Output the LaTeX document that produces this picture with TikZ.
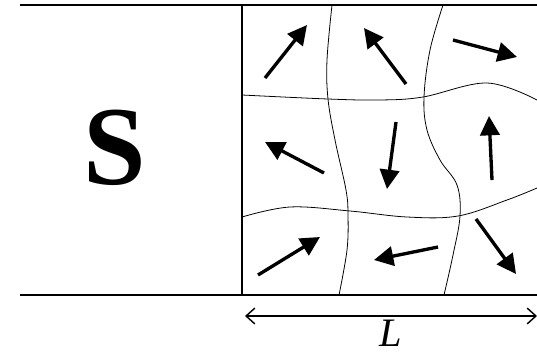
\documentclass[tikz,border=0pt]{standalone}
\usepackage{fontspec}
\setmainfont{Liberation Serif}
\usetikzlibrary{arrows.meta}

\tikzset{
    wall/.style={line width=1.2pt},
    domainwall/.style={line width=0.45pt},
    spin/.style={line width=1.9pt, -{Triangle[length=11pt,width=11pt]}},
    lenarrow/.style={line width=0.8pt, {Straight Barb[length=5pt,width=9pt]}-{Straight Barb[length=5pt,width=9pt]}}
}

\begin{document}
\begin{tikzpicture}[x=0.02cm, y=-0.02cm]
    \useasboundingbox (0,0) rectangle (537,355);

    % walls
    \draw[wall] (20,5) -- (537,5);
    \draw[wall] (20,295) -- (537,295);
    \draw[wall] (242,5) -- (242,295);

    % superconductor
    \node[font=\fontsize{64}{64}\selectfont\bfseries] (sc) at (115,148) {S};

    % domain walls
    \draw[domainwall] plot[smooth, tension=0.6] coordinates {(332,5) (327,60) (328,99) (335,140) (346,190) (348,215) (347,250) (339,295)};
    \draw[domainwall] plot[smooth, tension=0.6] coordinates {(443,5) (430,50) (424,97) (427,130) (440,160) (457,185) (460,216) (453,255) (444,295)};
    \draw[domainwall] plot[smooth, tension=0.6] coordinates {(242,95) (328,99) (380,100) (423,97) (487,83) (537,100)};
    \draw[domainwall] plot[smooth, tension=0.6] coordinates {(242,217) (290,207) (350,211) (407,217) (458,216) (507,200) (537,188)};

    % magnetisation in each domain
    \foreach \xa/\ya/\xb/\yb in {265/78/307/25, 406/84/364/28, 453/40/517/57,
                                 324/173/265/142, 396/122/387/189, 492/180/489/116,
                                 258/275/320/237, 438/247/374/260, 476/219/516/274} {
        \draw[spin] (\xa,\ya) -- (\xb,\yb);
    }

    % length of the ferromagnet
    \coordinate (Lleft) at (245,316);
    \coordinate (Lright) at (537,316);
    \draw[lenarrow] (Lleft) -- (Lright);
    \node[font=\fontsize{23}{23}\selectfont\itshape, anchor=base, inner sep=0pt] (len) at (391,346) {L};
\end{tikzpicture}
\end{document}
